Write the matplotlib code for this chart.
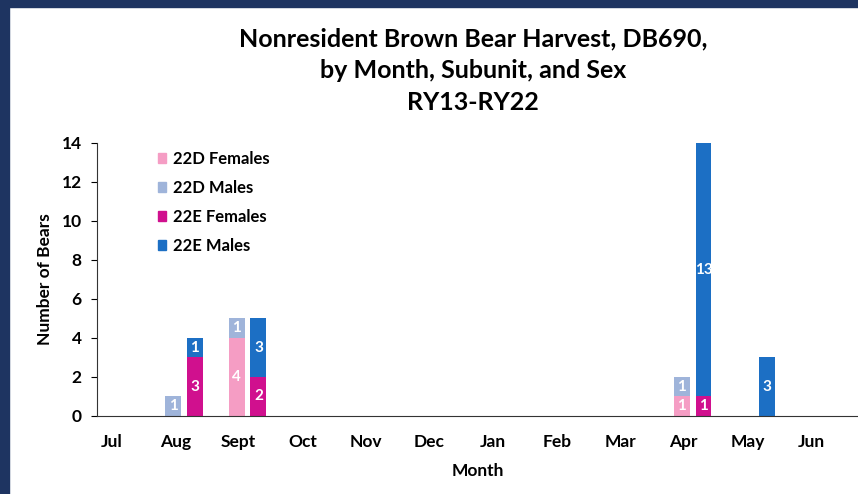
import numpy as np
import matplotlib.pyplot as plt
from matplotlib.patches import Rectangle

# data
months = ["Jul", "Aug", "Sept", "Oct", "Nov", "Dec", "Jan", "Feb", "Mar", "Apr", "May", "Jun"]
d_females = [0, 0, 4, 0, 0, 0, 0, 0, 0, 1, 0, 0]
d_males = [0, 1, 1, 0, 0, 0, 0, 0, 0, 1, 0, 0]
e_females = [0, 3, 2, 0, 0, 0, 0, 0, 0, 1, 0, 0]
e_males = [0, 1, 3, 0, 0, 0, 0, 0, 0, 13, 3, 0]

C_DF = "#F59DC4"
C_DM = "#9FB4DA"
C_EF = "#D0108E"
C_EM = "#1C6FC4"
NAVY = "#1E3461"

plt.rcParams['font.family'] = ['Lato', 'DejaVu Sans']

fig = plt.figure(figsize=(8.58, 4.94), dpi=100)
ax = fig.add_axes([0.113, 0.158, 0.887, 0.553])

x = np.arange(len(months))
w = 0.25
off = 0.17

def stack(xs, tops, colors):
    b = np.zeros(len(xs))
    for vals, c in zip(tops, colors):
        vals = np.array(vals, dtype=float)
        bars = ax.bar(xs, vals, w, bottom=b, color=c, zorder=2)
        for rect, v in zip(bars, vals):
            if v > 0:
                ax.text(rect.get_x() + rect.get_width() / 2, rect.get_y() + v / 2,
                        str(int(v)), color="white", ha="center", va="center",
                        fontsize=11, fontweight="bold", zorder=3)
        b = b + vals

stack(x - off, [d_females, d_males], [C_DF, C_DM])
stack(x + off, [e_females, e_males], [C_EF, C_EM])

ax.set_xlim(-0.37, 11.6)
ax.set_ylim(0, 14)
ax.set_yticks(range(0, 15, 2))
ax.set_xticks(x - 0.14)
ax.set_xticklabels(months)
ax.tick_params(axis="x", length=0, pad=13)
ax.tick_params(axis="y", length=4, direction="out", pad=7)
for lab in ax.get_xticklabels() + ax.get_yticklabels():
    lab.set_fontweight("bold")
    lab.set_fontsize(12.5)
ax.spines["top"].set_visible(False)
ax.spines["right"].set_visible(False)
ax.spines["left"].set_color("#333333")
ax.spines["bottom"].set_color("#333333")

ax.set_ylabel("Number of Bears", fontsize=12.5, fontweight="bold", labelpad=6)
ax.set_xlabel("Month", fontsize=12.5, fontweight="bold", labelpad=9)

handles = [Rectangle((0, 0), 1, 1, color=c) for c in [C_DF, C_DM, C_EF, C_EM]]
leg = ax.legend(handles, ["22D Females", "22D Males", "22E Females", "22E Males"],
                loc="upper left", bbox_to_anchor=(0.06, 1.025), frameon=False,
                handlelength=0.5, handleheight=0.5, handletextpad=0.45,
                labelspacing=0.78, prop={"weight": "bold", "size": 12})

fig.text(0.551, 0.945, "Nonresident Brown Bear Harvest, DB690,\nby Month, Subunit, and Sex\nRY13-RY22",
         ha="center", va="top", fontsize=18, fontweight="bold", linespacing=1.47)

# navy frame
fig.patches.append(Rectangle((0, 0), 0.011, 1, transform=fig.transFigure, color=NAVY, zorder=0))
fig.patches.append(Rectangle((0, 0.986), 1, 0.014, transform=fig.transFigure, color=NAVY, zorder=0))

fig.savefig("out.png", dpi=100)
